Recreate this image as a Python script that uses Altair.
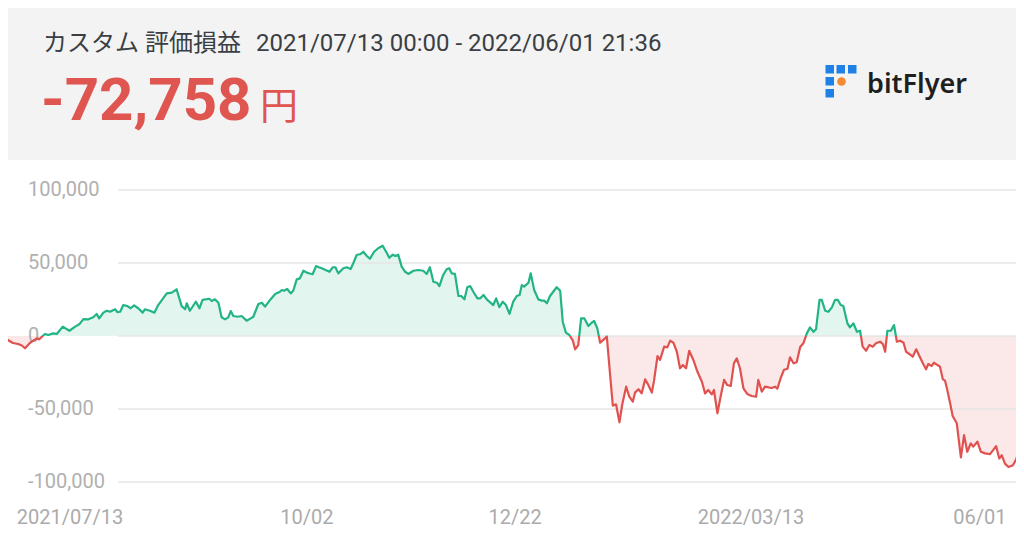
import altair as alt
import pandas as pd

# ---- data (day offset from 2021/07/13, P&L in JPY) ----
days = [0.0, 2.1, 4.1, 5.7, 6.9, 7.9, 9.5, 11.6, 12.4, 13.2, 14.2, 15.2, 16.8, 17.9, 19.8,
        21.9, 23.7, 25.0, 26.3, 27.9, 29.4, 30.5, 31.3, 32.6, 33.7, 34.7, 36.3, 37.0, 37.9,
        38.9, 40.2, 41.2, 42.3, 43.6, 45.0, 45.7, 47.3, 48.7, 49.9, 52.6, 54.2, 55.7, 57.3,
        58.4, 58.9, 59.9, 61.8, 62.9, 63.9, 66.0, 66.8, 67.8, 68.9, 69.9, 71.0, 72.0, 72.8,
        73.6, 74.9, 76.2, 77.8, 79.1, 79.9, 81.5, 82.6, 83.6, 85.2, 86.8, 88.3, 88.9, 89.6,
        90.6, 91.7, 92.5, 93.6, 94.6, 95.7, 96.8, 97.7, 98.6, 99.7, 100.6, 101.5, 102.7,
        103.9, 105.0, 105.8, 106.7, 108.3, 109.4, 110.6, 111.6, 112.5, 113.8, 114.6, 115.7,
        116.7, 118.0, 119.3, 120.7, 121.8, 122.8, 123.9, 124.7, 125.6, 126.7, 127.8, 128.8,
        130.4, 132.0, 133.5, 134.6, 135.6, 136.7, 137.8, 138.6, 139.8, 140.9, 141.7, 142.5,
        143.5, 144.6, 145.5, 146.5, 147.4, 148.3, 149.3, 150.6, 151.5, 152.5, 153.7, 154.7,
        155.6, 156.5, 157.5, 158.6, 159.6, 160.7, 161.9, 163.0, 163.9, 164.6, 165.3, 166.7,
        167.4, 168.5, 169.8, 170.9, 171.7, 172.5, 173.5, 174.5, 175.6, 176.7, 177.5, 178.5,
        179.6, 180.7, 181.4, 182.4, 183.3, 184.3, 185.6, 186.4, 187.4, 188.4, 189.3, 190.3,
        191.4, 192.4, 193.3, 194.3, 195.4, 196.3, 197.5, 198.5, 199.6, 200.3, 201.4, 202.4,
        203.5, 204.5, 205.6, 206.3, 207.4, 208.2, 209.5, 210.5, 211.4, 212.4, 213.5, 214.5,
        215.4, 216.4, 217.4, 218.7, 220.0, 221.4, 222.4, 223.4, 224.5, 225.2, 226.3, 227.4,
        228.4, 229.4, 230.5, 231.5, 232.4, 233.4, 234.5, 235.7, 237.1, 238.5, 239.2, 240.3,
        241.3, 242.4, 243.4, 244.5, 245.2, 246.3, 247.3, 248.4, 249.2, 250.3, 251.3, 252.4,
        253.4, 254.5, 255.5, 256.6, 257.4, 258.5, 259.2, 260.3, 261.3, 262.4, 263.4, 264.3,
        265.2, 266.0, 267.3, 268.1, 269.2, 270.3, 271.3, 272.1, 273.2, 274.2, 275.3, 276.3,
        277.6, 278.5, 279.2, 279.9, 281.0, 282.0, 282.9, 283.9, 285.0, 285.8, 286.8, 287.9,
        289.0, 290.0, 291.1, 292.1, 292.8, 293.9, 294.6, 295.7, 296.5, 297.4, 298.1, 298.8,
        299.7, 300.5, 301.8, 303.1, 304.1, 305.1, 306.2, 307.0, 308.3, 309.4, 310.7, 312.3,
        314.2, 315.2, 316.0, 317.0, 318.1, 319.5, 320.5, 321.8, 323.0]

values = [-900, -2300, -4800, -5500, -6500, -8400, -4600, -1600, -2300, -500, 1400, 700, 1800,
          1400, 6400, 3600, 6400, 8000, 11600, 11400, 12800, 15100, 12100, 16000, 17300, 16600,
          18300, 16400, 16600, 21200, 20500, 19000, 21000, 19000, 16000, 18300, 17300, 16000,
          21200, 29200, 29700, 32000, 20500, 18300, 22400, 17300, 23500, 19000, 24700, 25500,
          24000, 25100, 22800, 12800, 11400, 12800, 17100, 13700, 13200, 13700, 10500, 12100,
          13200, 21900, 22800, 20100, 24700, 28800, 30300, 31500, 31000, 32200, 29200, 31000,
          38800, 39500, 44700, 43400, 42800, 42300, 47900, 47100, 46400, 45200, 44000, 47100,
          47100, 42900, 46400, 47100, 45900, 50700, 55500, 56200, 57700, 54800, 52900, 57700,
          60100, 61800, 57700, 53600, 55700, 54800, 55700, 47500, 44000, 42500, 44700, 45200,
          44700, 42500, 47100, 37200, 36500, 34200, 41800, 45700, 46400, 42900, 42500, 27400,
          27400, 25100, 33400, 34200, 30300, 25800, 25800, 28100, 24700, 22900, 21200, 25800,
          19700, 23500, 21200, 15100, 23500, 27400, 28100, 34900, 33800, 36500, 42900, 31500,
          25100, 24200, 24200, 22400, 27400, 30300, 33400, 31000, 9800, 2300, 700, -3200,
          -9100, -6200, 12100, 12100, 6800, 8600, 10300, 5300, -4600, -2700, -300, -25500,
          -47700, -46800, -59100, -46600, -34700, -41600, -45000, -38800, -36500, -39300,
          -29700, -33600, -38800, -30600, -13700, -16400, -7300, -7800, -3200, -4600, -10800,
          -22100, -19900, -22100, -10100, -16400, -24500, -31300, -39300, -37000, -40000,
          -37000, -53000, -40400, -30100, -33600, -34200, -18700, -15300, -22100, -35800,
          -39700, -41100, -41600, -30100, -38100, -34700, -35200, -35600, -34700, -36100,
          -28500, -23100, -22400, -14600, -18700, -18000, -7500, -5000, 1800, 5900, 2900, 4600,
          24700, 24700, 17300, 16600, 19600, 24700, 24700, 21200, 20500, 8700, 5900, 8700,
          2900, 3600, -7300, -10100, -6200, -7300, -5000, -3900, -5500, -10800, 3600, 3600,
          7500, -3900, -3200, -4600, -10800, -12300, -14200, -9100, -13700, -18700, -22800,
          -19200, -20500, -18300, -19900, -21000, -29700, -30600, -37000, -46100, -54800,
          -59800, -83100, -67900, -79300, -73500, -75800, -72400, -79300, -80400, -80900,
          -75400, -83900, -81700, -87400, -89700, -88500, -84600, -75800, -72758]

y_ticks = [100000, 50000, 0, -50000, -100000]
y_tick_labels = ["100,000", "50,000", "0", "-50,000", "-100,000"]
x_tick_days = [22.1, 96.8, 162.5, 236.9, 309.1]
x_tick_labels = ["2021/07/13", "10/02", "12/22", "2022/03/13", "06/01"]

title_text = "カスタム 評価損益"
period_text = "2021/07/13 00:00 - 2022/06/01 21:36"
total_text = "-72,758"
unit_text = "円"
brand_text = "bitFlyer"

# ---- styles ----
GREEN = "#22b486"
RED = "#e0524f"
GREEN_FILL = "#e3f5ef"
RED_FILL = "#fbe8e8"
FONT = "Roboto, 'Noto Sans CJK JP', sans-serif"

df = pd.DataFrame({"day": days, "value": values})
df["zero"] = 0
vmax, vmin = max(values), min(values)
f = vmax / (vmax - vmin)  # where zero falls inside the line's bounding box


def split_gradient(top, bottom):
    return alt.LinearGradient(
        gradient="linear",
        stops=[alt.GradientStop(color=top, offset=0), alt.GradientStop(color=top, offset=f),
               alt.GradientStop(color=bottom, offset=f), alt.GradientStop(color=bottom, offset=1)],
        x1=0, x2=0, y1=0, y2=1,
    )


xscale = alt.Scale(domain=[0, 323], range=[-8, 1016], nice=False, zero=False)
yscale = alt.Scale(domain=[-100000, 100000], range=[474, 182], nice=False, zero=False)

one = pd.DataFrame({"a": [0]})

header = alt.Chart(one).mark_rect(color="#f3f3f3").encode(
    x=alt.value(0), x2=alt.value(1008), y=alt.value(0), y2=alt.value(152))


def text(t, x, y, size, color, weight="normal", font=FONT, align="left"):
    return alt.Chart(one).mark_text(
        text=t, align=align, baseline="alphabetic", font=font, fontSize=size,
        fontWeight=weight, color=color).encode(x=alt.value(x), y=alt.value(y))


title = text(title_text, 35, 43, 24, "#3b3f44")
period = text(period_text, 248, 43, 24, "#3b3f44")
total = text(total_text, 33, 112, 60, "#df5550", weight="bold")
unit = text(unit_text, 252, 111, 38, "#df5550")
brand = text(brand_text, 859, 85, 27, "#1f1f1f", weight=600, font="'Noto Sans', sans-serif")


def sq(x0, y0, color="#1f80e8", s=8.5):
    return alt.Chart(one).mark_rect(color=color).encode(
        x=alt.value(x0), x2=alt.value(x0 + s), y=alt.value(y0), y2=alt.value(y0 + s))


logo = [sq(817.5, 57), sq(828.5, 57), sq(840, 57), sq(817.5, 69), sq(817.5, 81)]
dot = alt.Chart(one).mark_circle(color="#f58a33", opacity=1, size=75).encode(
    x=alt.value(833.5), y=alt.value(73.5))

area = alt.Chart(df).mark_area(fill=split_gradient(GREEN_FILL, RED_FILL)).encode(
    x=alt.X("day:Q", scale=xscale, axis=None),
    y=alt.Y("value:Q", scale=yscale, axis=None),
    y2="zero:Q")

grid_df = pd.DataFrame({"tick": y_ticks, "label": y_tick_labels})
grid = alt.Chart(grid_df).mark_rule(color="#e6e6e6", strokeWidth=1.5).encode(
    y=alt.Y("tick:Q", scale=yscale, axis=None), x=alt.value(110), x2=alt.value(1008))
ylabels = alt.Chart(grid_df).mark_text(
    align="left", baseline="middle", font=FONT, fontSize=20, color="#b0b0b0").encode(
    y=alt.Y("tick:Q", scale=yscale, axis=None), x=alt.value(20), text="label:N")

line = alt.Chart(df).mark_line(
    stroke=split_gradient(GREEN, RED), strokeWidth=2.2, strokeJoin="round").encode(
    x=alt.X("day:Q", scale=xscale, axis=None),
    y=alt.Y("value:Q", scale=yscale, axis=None))

xl_df = pd.DataFrame({"pos": x_tick_days, "label": x_tick_labels})
xlabels = alt.Chart(xl_df).mark_text(
    align="center", baseline="alphabetic", font=FONT, fontSize=20, color="#ababab").encode(
    x=alt.X("pos:Q", scale=xscale, axis=None), y=alt.value(516), text="label:N")

chart = alt.layer(
    header, title, period, total, unit, brand, *logo, dot,
    area, grid, ylabels, line, xlabels,
).properties(
    width=1008, height=521, padding=0, background="white",
    autosize=alt.AutoSizeParams(type="none"),
).configure_view(strokeWidth=0)

chart.save("out.html", embed_options={"renderer": "svg", "actions": False})
